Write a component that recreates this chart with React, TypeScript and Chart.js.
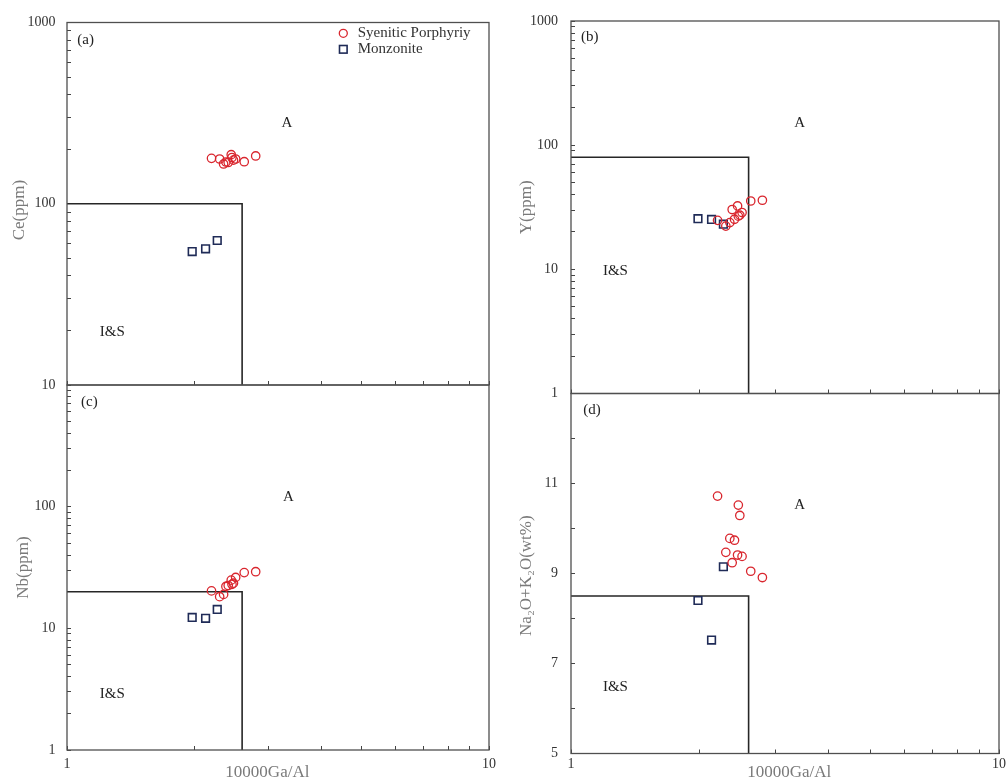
import React, { useEffect, useRef } from "react";
import { Chart, registerables } from "chart.js";

Chart.register(...registerables);

// ---------------- data ----------------
const gaAlSyenitic = [2.2, 2.3, 2.35, 2.38, 2.41, 2.45, 2.46, 2.48, 2.51, 2.63, 2.8];
const ceSyenitic = [178, 176.6, 165.7, 170, 169, 186.5, 180, 174, 176.6, 170.6, 183.5];
const ySyenitic = [24.8, 22.3, 23.8, 30.3, 25.3, 32.4, 26.8, 27.3, 28.7, 35.5, 36.0];
const nbSyenitic = [20.3, 18.2, 19.0, 22.1, 22.5, 24.9, 23.0, 23.5, 26.2, 28.7, 29.2];
const alkSyenitic = [10.72, 9.47, 9.78, 9.24, 9.74, 9.41, 10.52, 10.29, 9.38, 9.05, 8.91];

const gaAlMonzonite = [1.98, 2.13, 2.27];
const ceMonzonite = [54.5, 56.4, 62.7];
const yMonzonite = [25.6, 25.2, 23.1];
const nbMonzonite = [12.3, 12.1, 14.3];
const alkMonzonite = [8.4, 7.52, 9.15];

const gaAlLimit = 2.6;
const ceLimit = 100;
const yLimit = 80;
const nbLimit = 20;
const alkLimit = 8.5;

const seriesNames = ["Syenitic Porphyriy", "Monzonite"];
const xTitleText = "10000Ga/Al";

const xTickValues = [1, 2, 3, 4, 5, 6, 7, 8, 9, 10];
const logTicks10to1000 = [10, 20, 30, 40, 50, 60, 70, 80, 90, 100, 200, 300, 400, 500, 600, 700, 800, 900, 1000];
const logTicks1to1000 = [1, 2, 3, 4, 5, 6, 7, 8, 9, ...logTicks10to1000];
const linTicks5to13 = [5, 6, 7, 8, 9, 10, 11, 12, 13];

const labelsA = ["10", "100", "1000"];
const labelsB = ["1", "10", "100", "1000"];
const labelsC = ["1", "10", "100"];
const labelsD = ["5", "7", "9", "11"];
const xLabelsBottom = ["1", "10"];

// ---------------- styles ----------------
const FONT = '"Liberation Serif", "Times New Roman", Times, serif';
const W = 1006;
const H = 780;
const RED = "#d9262e";
const NAVY = "#1f2b57";
const YW = 60;

type PanelCfg = {
  letter: string;
  area: { left: number; top: number; right: number; bottom: number };
  yType: "logarithmic" | "linear";
  yMin: number;
  yMax: number;
  yTicks: number[];
  yLabels: string[];
  xLabels: string[];
  yTitle: string;
  yTitlePad: number;
  yTickPad: number;
  xTitle: string;
  xh: number;
  xTickPad: number;
  sp: number[];
  mz: number[];
  limit: number;
  aPos: [number, number];
  isPos: [number, number];
  letterOff: [number, number];
  legend: boolean;
};

const panels: PanelCfg[] = [
  {
    letter: "(a)",
    area: { left: 67, top: 22.5, right: 489, bottom: 385 },
    yType: "logarithmic", yMin: 10, yMax: 1000, yTicks: logTicks10to1000, yLabels: labelsA,
    xLabels: [], yTitle: "Ce(ppm)   ", yTitlePad: 3.7, yTickPad: 15.5,
    xTitle: "", xh: 0, xTickPad: 9.6,
    sp: ceSyenitic, mz: ceMonzonite, limit: ceLimit,
    aPos: [3.32, 279], isPos: [1.28, 19.6], letterOff: [10.3, 17.5], legend: true,
  },
  {
    letter: "(b)",
    area: { left: 571, top: 21, right: 1002, bottom: 393.5 },
    yType: "logarithmic", yMin: 1, yMax: 1000, yTicks: logTicks1to1000, yLabels: labelsB,
    xLabels: [], yTitle: "Y(ppm)", yTitlePad: 7.2, yTickPad: 17,
    xTitle: "", xh: 0, xTickPad: 6,
    sp: ySyenitic, mz: yMonzonite, limit: yLimit,
    aPos: [3.42, 150.7], isPos: [1.27, 9.66], letterOff: [10, 16.5], legend: false,
  },
  {
    letter: "(c)",
    area: { left: 67, top: 385, right: 489, bottom: 750 },
    yType: "logarithmic", yMin: 1, yMax: 1000, yTicks: logTicks1to1000, yLabels: labelsC,
    xLabels: xLabelsBottom, yTitle: "Nb(ppm)", yTitlePad: 8.5, yTickPad: 15.5,
    xTitle: xTitleText + "     ", xh: 30, xTickPad: 9.6,
    sp: nbSyenitic, mz: nbMonzonite, limit: nbLimit,
    aPos: [3.345, 118.9], isPos: [1.28, 2.9], letterOff: [14, 16.7], legend: false,
  },
  {
    letter: "(d)",
    area: { left: 571, top: 393.5, right: 1002, bottom: 753.5 },
    yType: "linear", yMin: 5, yMax: 13, yTicks: linTicks5to13, yLabels: labelsD,
    xLabels: xLabelsBottom, yTitle: "Na\u2082O+K\u2082O(wt%) ", yTitlePad: 7.2, yTickPad: 17,
    xTitle: "  " + xTitleText, xh: 26.5, xTickPad: 6.1,
    sp: alkSyenitic, mz: alkMonzonite, limit: alkLimit,
    aPos: [3.42, 10.53], isPos: [1.27, 6.47], letterOff: [12.3, 16.5], legend: false,
  },
];

const decorPlugin = {
  id: "panelDecor",
  afterDraw(chart: any, _args: any, o: any) {
    const { ctx, chartArea, scales } = chart;
    const { left, top, right, bottom } = chartArea;
    ctx.save();
    ctx.strokeStyle = "#4f4f4f";
    ctx.lineWidth = 1.3;
    ctx.strokeRect(left, top, right - left, bottom - top);

    ctx.fillStyle = "#222";
    ctx.font = `15px ${FONT}`;
    ctx.textBaseline = "middle";
    ctx.textAlign = "left";
    ctx.fillText(o.letter, left + o.letterOff[0], top + o.letterOff[1]);

    ctx.textAlign = "center";
    ctx.fillText("A", scales.x.getPixelForValue(o.aPos[0]), scales.y.getPixelForValue(o.aPos[1]));
    ctx.fillText("I&S", scales.x.getPixelForValue(o.isPos[0]), scales.y.getPixelForValue(o.isPos[1]));

    if (o.legend) {
      const ds = chart.data.datasets;
      const mx = right - 145.7;
      const y1 = top + 10.8;
      const y2 = top + 26.8;
      ctx.beginPath();
      ctx.arc(mx, y1, 4, 0, Math.PI * 2);
      ctx.strokeStyle = ds[0].borderColor;
      ctx.lineWidth = 1.3;
      ctx.stroke();
      ctx.strokeStyle = ds[1].borderColor;
      ctx.lineWidth = 1.6;
      ctx.strokeRect(mx - 3.8, y2 - 3.8, 7.6, 7.6);
      ctx.fillStyle = "#333";
      ctx.textAlign = "left";
      ctx.fillText(ds[0].label, right - 131.3, y1);
      ctx.fillText(ds[1].label, right - 131.3, y2);
    }
    ctx.restore();
  },
};

function buildConfig(p: PanelCfg): any {
  const tickGrid = {
    display: true,
    drawOnChartArea: false,
    drawTicks: true,
    tickLength: -4,
    tickColor: "#444",
    tickWidth: 1,
  };
  const zeroPad = (s: any) => {
    s.paddingLeft = 0;
    s.paddingRight = 0;
    s.paddingTop = 0;
    s.paddingBottom = 0;
  };
  return {
    type: "scatter",
    data: {
      datasets: [
        {
          label: seriesNames[0],
          data: gaAlSyenitic.map((x, i) => ({ x, y: p.sp[i] })),
          pointStyle: "circle",
          pointRadius: 4.2,
          pointBorderWidth: 1.3,
          borderColor: RED,
          pointBorderColor: RED,
          backgroundColor: "rgba(0,0,0,0)",
          pointBackgroundColor: "rgba(0,0,0,0)",
          showLine: false,
        },
        {
          label: seriesNames[1],
          data: gaAlMonzonite.map((x, i) => ({ x, y: p.mz[i] })),
          pointStyle: "rect",
          pointRadius: 5.4,
          pointBorderWidth: 1.6,
          borderColor: NAVY,
          pointBorderColor: NAVY,
          backgroundColor: "rgba(0,0,0,0)",
          pointBackgroundColor: "rgba(0,0,0,0)",
          showLine: false,
        },
        {
          label: "boundary",
          data: [
            { x: 1, y: p.limit },
            { x: gaAlLimit, y: p.limit },
            { x: gaAlLimit, y: p.yMin },
          ],
          showLine: true,
          borderColor: "#262626",
          borderWidth: 1.6,
          pointRadius: 0,
          fill: false,
        },
      ],
    },
    options: {
      responsive: false,
      devicePixelRatio: 1,
      animation: false,
      events: [],
      layout: {
        padding: {
          left: p.area.left - YW,
          top: p.area.top,
          right: W - p.area.right,
          bottom: H - p.area.bottom - p.xh,
        },
      },
      plugins: {
        legend: { display: false },
        tooltip: { enabled: false },
        panelDecor: {
          letter: p.letter,
          aPos: p.aPos,
          isPos: p.isPos,
          letterOff: p.letterOff,
          legend: p.legend,
        },
      },
      scales: {
        x: {
          type: "logarithmic",
          position: "bottom",
          min: 1,
          max: 10,
          afterBuildTicks: (s: any) => {
            s.ticks = xTickValues.map((v) => ({ value: v }));
          },
          afterFit: (s: any) => {
            s.height = p.xh;
            zeroPad(s);
          },
          grid: tickGrid,
          border: { display: false },
          ticks: {
            autoSkip: false,
            maxRotation: 0,
            minRotation: 0,
            padding: p.xTickPad,
            color: "#333",
            font: { family: FONT, size: 14 },
            callback: (v: any) => (p.xLabels.includes(String(v)) ? String(v) : ""),
          },
          title: {
            display: p.xTitle !== "",
            text: p.xTitle,
            color: "#7a7a7a",
            font: { family: FONT, size: 17, lineHeight: 1 },
            padding: { top: 0, bottom: -1.5 },
          },
        },
        y: {
          type: p.yType,
          position: "left",
          min: p.yMin,
          max: p.yMax,
          afterBuildTicks: (s: any) => {
            s.ticks = p.yTicks.map((v) => ({ value: v }));
          },
          afterFit: (s: any) => {
            s.width = YW;
            zeroPad(s);
          },
          grid: tickGrid,
          border: { display: false },
          ticks: {
            autoSkip: false,
            padding: p.yTickPad,
            color: "#333",
            font: { family: FONT, size: 14 },
            callback: (v: any) => (p.yLabels.includes(String(v)) ? String(v) : ""),
          },
          title: {
            display: true,
            text: p.yTitle,
            color: "#7a7a7a",
            font: { family: FONT, size: 17, lineHeight: 1 },
            padding: { top: p.yTitlePad, bottom: 0 },
          },
        },
      },
    },
    plugins: [decorPlugin],
  };
}

function PanelChart({ cfg }: { cfg: PanelCfg }) {
  const ref = useRef<HTMLCanvasElement>(null);
  useEffect(() => {
    if (!ref.current) return;
    const chart = new Chart(ref.current, buildConfig(cfg));
    return () => chart.destroy();
  }, [cfg]);
  return (
    <canvas
      ref={ref}
      width={W}
      height={H}
      style={{ position: "absolute", left: 0, top: 0, width: W, height: H }}
    />
  );
}

export default function App() {
  return (
    <div
      style={{
        position: "absolute",
        left: 0,
        top: 0,
        width: W,
        height: H,
        overflow: "hidden",
        background: "#ffffff",
      }}
    >
      {panels.map((p) => (
        <PanelChart key={p.letter} cfg={p} />
      ))}
    </div>
  );
}
